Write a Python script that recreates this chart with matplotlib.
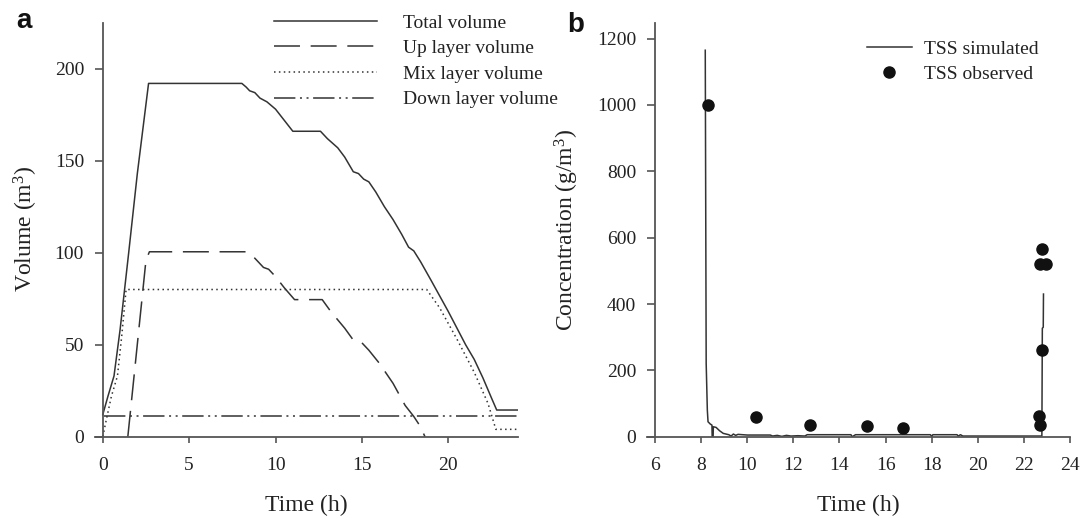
import matplotlib
matplotlib.use("Agg")
import matplotlib.pyplot as plt

# ---------------- data (panel a) ----------------
total_t = [0, 0.3, 0.65, 1.0, 1.5, 2.0, 2.65, 8.05, 8.3, 8.5, 8.8, 9.1, 9.3, 9.5, 10.0, 10.5, 11.0,
           12.6, 13.0, 13.6, 14.0, 14.5, 14.8, 15.1, 15.4, 15.8, 16.3, 16.8, 17.3, 17.7, 18.0, 18.4,
           19.0, 20.0, 21.0, 21.5, 22.0, 22.5, 22.8, 24.05]
total_v = [12, 22, 33, 58, 100, 143, 192, 192, 190, 188, 187, 184, 183, 182, 178, 172, 166,
           166, 162, 157, 152, 144, 143, 140, 138.5, 133, 125, 118, 110, 103, 101, 95,
           85, 68, 50, 42, 32, 21, 14.5, 14.5]

up_t = [1.45, 2.5, 2.7, 8.3, 8.8, 9.3, 9.6, 10.0, 10.5, 11.1, 12.7, 13.2, 14.0, 14.5, 15.0, 15.4,
        16.0, 16.8, 17.5, 18.0, 18.35, 18.65]
up_v = [0, 96, 100.5, 100.5, 97, 92, 91, 87, 81, 74.5, 74.5, 68, 59, 52.5, 51, 47,
        40, 29, 17, 11, 6, 0]

mix_t = [0, 0.2, 0.5, 0.85, 1.1, 1.35, 18.75, 19.5, 20.5, 21.5, 22.3, 22.75, 24.05]
mix_v = [0, 9, 22, 33, 55, 80, 80, 70, 53, 35, 18, 4, 4]

down_t = [0.05, 24.05]
down_v = [11, 11]

vol_labels = ["Total volume", "Up layer volume", "Mix layer volume", "Down layer volume"]
vol_xticks = [0, 5, 10, 15, 20]
vol_yticks = [0, 50, 100, 150, 200]

# ---------------- data (panel b) ----------------
sim_t = [8.18, 8.22, 8.27, 8.3, 8.4, 8.47, 8.48, 8.52, 8.53, 8.65, 8.8, 8.96, 9.2, 9.3, 9.4, 9.5,
         9.6, 10.0, 11.0, 11.1, 11.3, 11.5, 11.7, 11.9, 12.2, 12.5, 12.6, 14.5, 14.55, 14.7,
         17.95, 18.0, 18.05, 19.1, 19.15, 19.25, 19.35, 19.45, 22.78, 22.8, 22.84, 22.85]
sim_c = [1165, 221, 80, 45, 38, 35, 0, 0, 30, 28, 18, 10, 6, 2, 8, 4,
         7, 5, 5, 2, 4, 1, 4, 2, 3, 2, 6, 6, 0, 6,
         6, 0, 6, 6, 2, 6, 2, 2, 2, 327, 330, 430]

obs_t = [8.3, 10.37, 12.73, 15.2, 16.75, 22.65, 22.68, 22.78, 22.8, 22.7, 22.97]
obs_c = [1000, 58, 35, 33, 27, 62, 35, 262, 566, 522, 522]

tss_labels = ["TSS simulated", "TSS observed"]
tss_xticks = [6, 8, 10, 12, 14, 16, 18, 20, 22, 24]
tss_yticks = [0, 200, 400, 600, 800, 1000, 1200]

# ---------------- style ----------------
plt.rcParams['font.family'] = ['Liberation Serif', 'DejaVu Serif']
plt.rcParams['mathtext.fontset'] = 'custom'
plt.rcParams['mathtext.rm'] = 'Liberation Serif'
LINE = '#333333'
AXC = '#555555'
TXT = '#222222'

W, H = 1081, 516
fig = plt.figure(figsize=(W / 100, H / 100), dpi=100)


def px_axes(x0, x1, y_top, y_bot):
    return fig.add_axes([x0 / W, 1 - y_bot / H, (x1 - x0) / W, (y_bot - y_top) / H])


def style(ax, yspine_at):
    for s in ['top', 'right']:
        ax.spines[s].set_visible(False)
    ax.spines['left'].set_position(('data', yspine_at))
    for s in ['left', 'bottom']:
        ax.spines[s].set_color(AXC)
        ax.spines[s].set_linewidth(1.3)
    ax.tick_params(axis='x', direction='out', length=4, width=1.2, color=AXC,
                   pad=10.5, labelsize=14, labelcolor=TXT)
    ax.tick_params(axis='y', direction='out', length=5.5, width=1.2, color=AXC,
                   pad=8, labelsize=14, labelcolor=TXT)


# ---- panel a ----
ax1 = px_axes(95, 518.3, 22.7, 436.7)
ax1.set_xlim(-0.45, 24.05)
ax1.set_ylim(0, 225)
style(ax1, 0)
l1, = ax1.plot(total_t, total_v, color=LINE, lw=1.1, ls='-')
l2, = ax1.plot(up_t, up_v, color=LINE, lw=1.1, dashes=(17, 7))
l3, = ax1.plot(mix_t, mix_v, color=LINE, lw=1.1, dashes=(1, 2.2))
l4, = ax1.plot(down_t, down_v, color=LINE, lw=1.1, dashes=(14, 3, 1.3, 3, 1.3, 3))
ax1.set_xticks(vol_xticks)
ax1.set_yticks(vol_yticks)
ax1.set_xlabel('Time (h)', fontsize=17, color=TXT, labelpad=15)
ax1.set_ylabel(r'Volume (m$\mathregular{^3}$)', fontsize=17, color=TXT)
leg1 = ax1.legend([l1, l2, l3, l4], vol_labels, loc='upper left',
                  bbox_to_anchor=(274 / W, 1 - 14 / H), bbox_transform=fig.transFigure,
                  frameon=False, fontsize=14, handlelength=5.3, handletextpad=1.35,
                  labelspacing=0.41, borderpad=0, borderaxespad=0)
for t in leg1.get_texts():
    t.set_color(TXT)

# ---- panel b ----
ax2 = px_axes(646.7, 1070, 22.7, 436.7)
ax2.set_xlim(5.64, 24.0)
ax2.set_ylim(0, 1248)
style(ax2, 6)
s1, = ax2.plot(sim_t, sim_c, color=LINE, lw=1.1)
s2, = ax2.plot(obs_t, obs_c, ls='none', marker='o', ms=8, color='#111111', mec='#111111')
ax2.set_xticks(tss_xticks)
ax2.set_yticks(tss_yticks)
ax2.set_xlabel('Time (h)', fontsize=17, color=TXT, labelpad=15)
ax2.set_ylabel(r'Concentration (g/m$\mathregular{^3}$)', fontsize=17, color=TXT)
leg2 = ax2.legend([s1, s2], tss_labels, loc='upper left',
                  bbox_to_anchor=(867 / W, 1 - 40 / H), bbox_transform=fig.transFigure,
                  frameon=False, fontsize=14, handlelength=2.3, handletextpad=0.65,
                  labelspacing=0.41, borderpad=0, borderaxespad=0)
for t in leg2.get_texts():
    t.set_color(TXT)

# label positions in pixels
fig.canvas.draw()
def set_ylabel_px(ax, xc, yc):
    inv = ax.transAxes.inverted()
    xa, ya = inv.transform((xc, H - yc))
    ax.yaxis.set_label_coords(xa, ya)

set_ylabel_px(ax1, 40, 229)
set_ylabel_px(ax2, 581, 230)

fig.text(16 / W, 1 - 28 / H, 'a', family='Liberation Sans', weight='bold', fontsize=20,
         color='#111111', va='baseline', ha='left')
fig.text(567 / W, 1 - 32 / H, 'b', family='Liberation Sans', weight='bold', fontsize=20,
         color='#111111', va='baseline', ha='left')

fig.savefig('out.png', dpi=100)
